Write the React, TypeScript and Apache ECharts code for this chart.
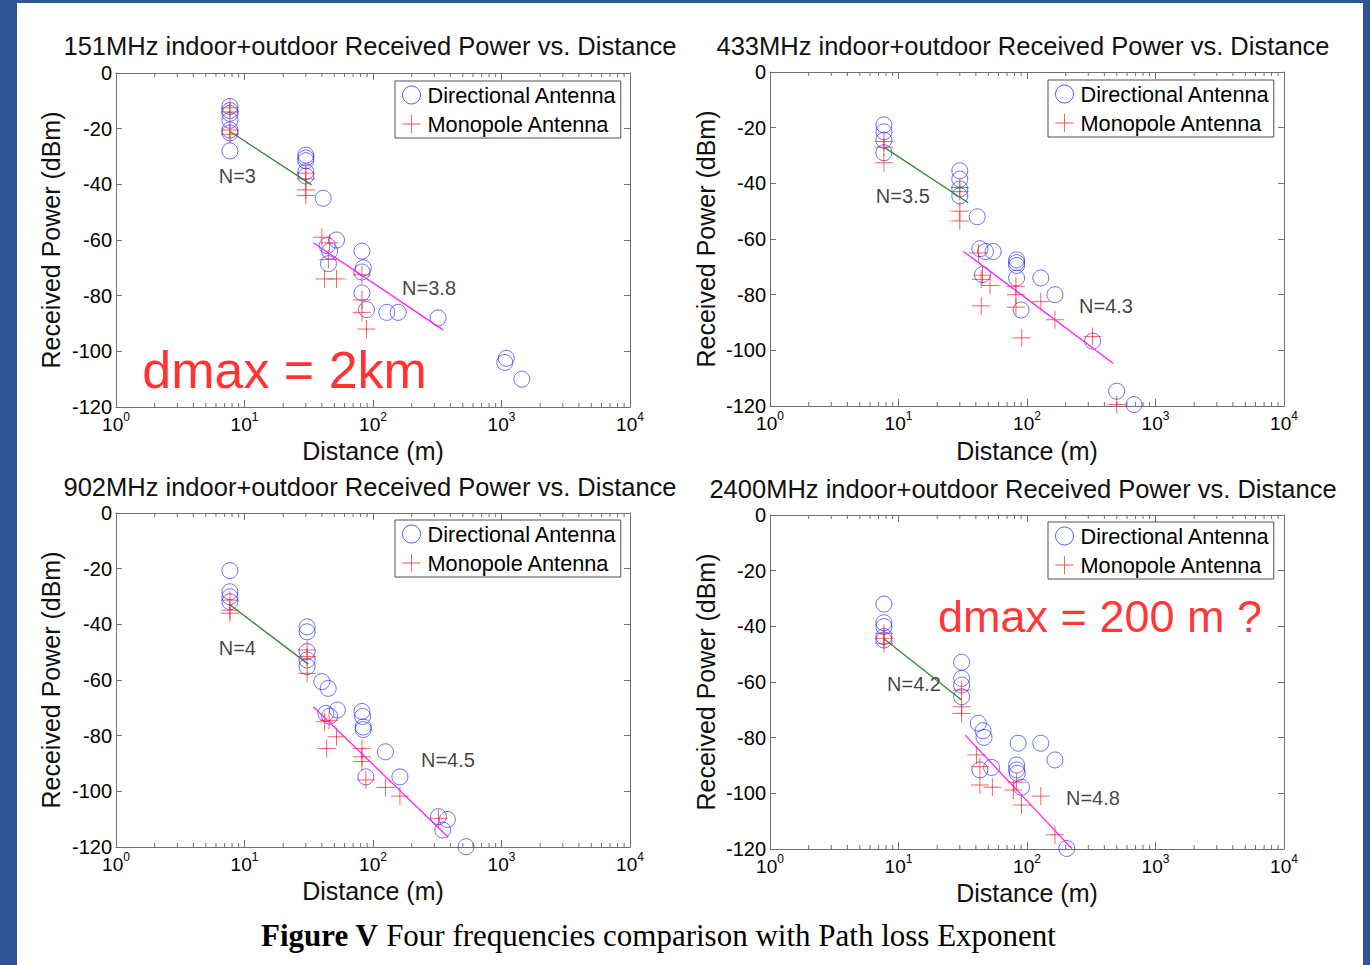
import React, { useEffect, useRef } from 'react';
import * as echarts from 'echarts';

const FONT = '"Liberation Sans", Arial, Helvetica, sans-serif';
const SERIF = '"Liberation Serif", "Times New Roman", serif';

const panelTitles = [
  '151MHz indoor+outdoor Received Power vs. Distance',
  '433MHz indoor+outdoor Received Power vs. Distance',
  '902MHz indoor+outdoor Received Power vs. Distance',
  '2400MHz indoor+outdoor Received Power vs. Distance',
];
const legendNames = ['Directional Antenna', 'Monopole Antenna'];
const xAxisName = 'Distance (m)';
const yAxisName = 'Received Power (dBm)';
const captionBold = 'Figure V';
const captionRest = ' Four frequencies comparison with Path loss Exponent';

const xMin = 1;
const xMax = 10000;
const yMin = -120;
const yMax = 0;
const yStep = 20;
const minorTicks = [
  2, 3, 4, 5, 6, 7, 8, 9, 20, 30, 40, 50, 60, 70, 80, 90,
  200, 300, 400, 500, 600, 700, 800, 900, 2000, 3000, 4000, 5000, 6000, 7000, 8000, 9000,
];

// ---------- 151 MHz ----------
const dir151: [number, number][] = [
  [7.7, -12], [7.7, -13.5], [7.7, -14.5], [7.7, -17], [7.7, -20.5], [7.7, -21.5], [7.7, -28],
  [30, -29.5], [30, -30.5], [30, -31.5], [30, -35.5], [30, -37],
  [41, -45],
  [44, -62], [46, -64], [45, -68.5], [52, -60],
  [82, -64], [84, -70], [82, -71.5], [82, -79], [89, -85],
  [128, -86], [157, -86], [321, -88],
  [1090, -102.5], [1060, -104], [1440, -110],
];
const mono151: [number, number][] = [
  [7.7, -12.5], [7.7, -14], [7.7, -20.5], [7.7, -22],
  [30, -36], [30, -38], [30, -42], [30, -44],
  [40, -59], [46, -61], [45, -67], [42, -74], [52, -74],
  [82, -72.5], [82, -81.5], [82, -86], [89, -92],
];
const fitA151: [number, number][] = [[7.7, -21], [33.3, -40.2]];
const fitB151: [number, number][] = [[34.3, -61], [351, -92.3]];
const labels151: [number, number, string][] = [[8.8, -37, 'N=3'], [273, -77.3, 'N=3.8']];
const note151: [number, number, string][] = [[20.5, -106.7, 'dmax = 2km']];

// ---------- 433 MHz ----------
const dir433: [number, number][] = [
  [7.7, -19], [7.7, -21.5], [7.7, -24.5], [7.7, -29],
  [30, -35.5], [30, -38.5], [30, -42], [30, -44.5],
  [41, -52],
  [43, -63.5], [47.5, -64.5], [54.5, -64.5], [45, -72.8],
  [83, -67.5], [83, -68.5], [83, -69.5], [83, -74], [90, -85.5],
  [128, -74], [165, -80], [324, -96.7],
  [499, -114.7], [680, -119.5],
];
const mono433: [number, number][] = [
  [7.7, -25], [7.7, -27], [7.7, -32.6],
  [30, -41.5], [30, -43], [30, -50], [30, -53.5],
  [42, -65], [44, -74.5], [45, -73], [51.6, -76.7], [44, -84],
  [82, -77], [82, -80], [82, -84.5], [91, -95.5],
  [128, -82.5], [165, -89], [324, -95], [499, -119.5],
];
const fitA433: [number, number][] = [[7.7, -27], [34.9, -47]];
const fitB433: [number, number][] = [[31.9, -64.4], [470, -104.7]];
const labels433: [number, number, string][] = [[10.8, -44.5, 'N=3.5'], [412, -84, 'N=4.3']];
const note433: [number, number, string][] = [];

// ---------- 902 MHz ----------
const dir902: [number, number][] = [
  [7.7, -20.7], [7.7, -28.3], [7.7, -30.1], [7.7, -31.9],
  [30.7, -40.9], [30.7, -42.7], [30.7, -49.8], [30.7, -52.8], [30.7, -55.2],
  [40, -60.6], [44.8, -63],
  [43, -72], [46, -73], [52.8, -70.8],
  [82, -71.3], [83, -73.1], [84, -76.9], [84, -77.8], [88, -94.8],
  [125, -85.8], [162, -94.8],
  [323, -109.1], [379, -110.1], [349, -113.9],
  [530, -119.9],
];
const mono902: [number, number][] = [
  [7.7, -31.3], [7.7, -34.9], [7.7, -36],
  [30.7, -49.2], [30.7, -51.6], [30.7, -57.6],
  [42, -75], [45.5, -74.5], [52, -80.4], [43.6, -84.6],
  [82, -84.6], [82, -87.6], [82, -89.3], [88, -95.9],
  [125, -98.6], [162, -101.7],
  [323, -109.7],
];
const fitA902: [number, number][] = [[7.7, -33], [31.3, -54.3]];
const fitB902: [number, number][] = [[34.3, -69.6], [385, -116.5]];
const labels902: [number, number, string][] = [[8.8, -48.5, 'N=4'], [383, -88.7, 'N=4.5']];
const note902: [number, number, string][] = [];

// ---------- 2400 MHz ----------
const dir2400: [number, number][] = [
  [7.7, -32], [7.7, -38.7], [7.7, -40.1], [7.7, -43.7], [7.7, -44.9],
  [31, -52.9], [31, -58.7], [31, -61.1], [31, -65.3],
  [41.8, -74.8], [45.5, -77.5], [46.3, -79.9], [43, -91.6], [53, -90.7],
  [85.3, -82], [83, -89.8], [83, -91.6], [84, -92.8], [90.6, -97.8],
  [128, -82], [165, -88],
  [204, -119.8],
];
const mono2400: [number, number][] = [
  [7.7, -42.5], [7.7, -44.3], [7.7, -46.1],
  [31, -62.9], [31, -68.9], [31, -71.3],
  [40.4, -86.2], [43, -90.4], [43, -97], [53.8, -97.8],
  [78.4, -98.8], [83, -96], [90.6, -104.2],
  [128, -101], [165, -114.9],
];
const fitA2400: [number, number][] = [[7.7, -44.5], [31, -66.5]];
const fitB2400: [number, number][] = [[32.9, -79], [223, -119.8]];
const labels2400: [number, number, string][] = [[13.2, -60.7, 'N=4.2'], [326, -101.7, 'N=4.8']];
const note2400: [number, number, string][] = [[370, -36.3, 'dmax = 200 m ?']];

const panels = [
  { dir: dir151, mono: mono151, fitA: fitA151, fitB: fitB151, labels: labels151, note: note151 },
  { dir: dir433, mono: mono433, fitA: fitA433, fitB: fitB433, labels: labels433, note: note433 },
  { dir: dir902, mono: mono902, fitA: fitA902, fitB: fitB902, labels: labels902, note: note902 },
  { dir: dir2400, mono: mono2400, fitA: fitA2400, fitB: fitB2400, labels: labels2400, note: note2400 },
];

// ---------- layout (pixels) ----------
const GW = 514;
const GH = 334;
const layout = [
  { left: 116, top: 73, titleX: 370, titleY: 46, yNameX: 51, xNameY: 451, legend: [395, 81], noteSize: 52 },
  { left: 770, top: 72, titleX: 1023, titleY: 46, yNameX: 706, xNameY: 451, legend: [1048, 80], noteSize: 52 },
  { left: 116, top: 513, titleX: 370, titleY: 487, yNameX: 51, xNameY: 891, legend: [395, 520], noteSize: 52 },
  { left: 770, top: 515, titleX: 1023, titleY: 489, yNameX: 706, xNameY: 893, legend: [1048, 522], noteSize: 45 },
];

const AX = '#707070';
const CIRCLE = 'rgba(30,30,255,0.8)';
const PLUS = 'rgba(255,20,20,0.85)';
const PLUS_PATH = 'path://M0 10H20M10 0V20';
const PLUS_ICON = 'path://M0 9.5H20V10.5H0Z M9.5 0H10.5V20H9.5Z';

function buildOption(): any {
  const grid: any[] = [];
  const xAxis: any[] = [];
  const yAxis: any[] = [];
  const series: any[] = [];
  const legend: any[] = [];
  const graphic: any[] = [];

  layout.forEach((L, i) => {
    grid.push({ left: L.left, top: L.top, width: GW, height: GH, containLabel: false, outerBoundsMode: 'none' });

    const xBase = {
      type: 'log', logBase: 10, min: xMin, max: xMax, gridIndex: i,
      axisLine: { show: true, onZero: false, lineStyle: { color: AX, width: 1 } },
      axisTick: { show: true, inside: true, length: 7, lineStyle: { color: AX } },
      splitLine: { show: false },
    };
    xAxis.push({
      ...xBase, position: 'bottom',
      axisLabel: {
        show: true, margin: 7, showMinLabel: true, showMaxLabel: true, hideOverlap: false,
        formatter: (v: number) => `{b|10}{s|${Math.round(Math.log10(v))}}`,
        rich: {
          b: { fontSize: 19, fontFamily: FONT, color: '#000', verticalAlign: 'bottom', lineHeight: 20 },
          s: { fontSize: 12, fontFamily: FONT, color: '#000', verticalAlign: 'bottom', lineHeight: 12, padding: [0, 0, 11, 0] },
        },
      },
    });
    xAxis.push({ ...xBase, position: 'top', axisLabel: { show: false } });

    const yBase = {
      type: 'value', min: yMin, max: yMax, interval: yStep, gridIndex: i,
      axisLine: { show: true, onZero: false, lineStyle: { color: AX, width: 1 } },
      axisTick: { show: true, inside: true, length: 6, lineStyle: { color: AX } },
      splitLine: { show: false },
    };
    yAxis.push({
      ...yBase, position: 'left',
      axisLabel: { show: true, margin: 4, fontSize: 20, fontFamily: FONT, color: '#000' },
    });
    yAxis.push({ ...yBase, position: 'right', axisLabel: { show: false } });

    const P = panels[i];
    const xi = 2 * i;
    const yi = 2 * i;

    series.push({
      type: 'custom', xAxisIndex: xi, yAxisIndex: yi, silent: true, z: 1,
      data: minorTicks.map((v) => [v, yMin]),
      renderItem: (_p: any, api: any) => {
        const v = api.value(0);
        const b = api.coord([v, yMin]);
        const t = api.coord([v, yMax]);
        const st = { stroke: AX, lineWidth: 1 };
        return {
          type: 'group',
          children: [
            { type: 'line', shape: { x1: b[0], y1: b[1], x2: b[0], y2: b[1] - 4 }, style: st },
            { type: 'line', shape: { x1: t[0], y1: t[1], x2: t[0], y2: t[1] + 4 }, style: st },
          ],
        };
      },
    });

    series.push({
      name: legendNames[0], type: 'scatter', xAxisIndex: xi, yAxisIndex: yi,
      data: P.dir, symbol: 'circle', symbolSize: 16,
      itemStyle: { color: 'rgba(0,0,0,0)', borderColor: CIRCLE, borderWidth: 1 },
      emphasis: { disabled: true },
    });
    series.push({
      name: legendNames[1], type: 'scatter', xAxisIndex: xi, yAxisIndex: yi,
      data: P.mono, symbol: PLUS_PATH, symbolSize: 18,
      itemStyle: { color: 'rgba(0,0,0,0)', borderColor: PLUS, borderWidth: 1 },
      emphasis: { disabled: true },
    });
    series.push({
      name: 'fitA' + i, type: 'line', xAxisIndex: xi, yAxisIndex: yi, data: P.fitA,
      symbol: 'none', silent: true, lineStyle: { color: '#2e8b2e', width: 1.3 },
    });
    series.push({
      name: 'fitB' + i, type: 'line', xAxisIndex: xi, yAxisIndex: yi, data: P.fitB,
      symbol: 'none', silent: true, lineStyle: { color: '#ff22ff', width: 1.3 },
    });
    series.push({
      name: 'labels' + i, type: 'scatter', xAxisIndex: xi, yAxisIndex: yi, silent: true,
      data: P.labels.map((l) => ({ value: [l[0], l[1]], name: l[2] })),
      symbolSize: 0, itemStyle: { color: 'rgba(0,0,0,0)' },
      label: { show: true, position: 'inside', formatter: '{b}', color: '#111', fontSize: 20, fontFamily: FONT },
    });
    if (P.note.length) {
      series.push({
        name: 'note' + i, type: 'scatter', xAxisIndex: xi, yAxisIndex: yi, silent: true, z: 5,
        data: P.note.map((l) => ({ value: [l[0], l[1]], name: l[2] })),
        symbolSize: 0, itemStyle: { color: 'rgba(0,0,0,0)' },
        label: { show: true, position: 'inside', formatter: '{b}', color: '#ff0000', fontSize: L.noteSize, fontFamily: FONT },
      });
    }

    legend.push({
      left: L.legend[0], top: L.legend[1], orient: 'vertical',
      data: [
        { name: legendNames[0], icon: 'circle', itemStyle: { color: 'rgba(0,0,0,0)', borderColor: '#3030ff', borderWidth: 1 } },
        { name: legendNames[1], icon: PLUS_ICON, itemStyle: { color: '#ff2020', borderColor: 'rgba(0,0,0,0)', borderWidth: 0 } },
      ],
      itemWidth: 18, itemHeight: 18, itemGap: 7, padding: [3, 4, 3, 7],
      borderColor: '#505050', borderWidth: 1, backgroundColor: '#fff',
      selectedMode: false,
      textStyle: { fontSize: 21.7, fontFamily: FONT, color: '#000', padding: [0, 0, 0, 2] },
    });

    graphic.push({
      type: 'text', x: L.titleX, y: L.titleY, silent: true,
      style: { text: panelTitles[i], align: 'center', verticalAlign: 'middle', fontSize: 25.5, fontFamily: FONT, fill: '#111' },
    });
    graphic.push({
      type: 'text', x: L.left + GW / 2, y: L.xNameY, silent: true,
      style: { text: xAxisName, align: 'center', verticalAlign: 'middle', fontSize: 25, fontFamily: FONT, fill: '#111' },
    });
    graphic.push({
      type: 'text', x: L.yNameX, y: L.top + GH / 2, rotation: Math.PI / 2, silent: true,
      style: { text: yAxisName, align: 'center', verticalAlign: 'middle', fontSize: 25, fontFamily: FONT, fill: '#111' },
    });
  });

  graphic.push({
    type: 'text', x: 261, y: 935, silent: true,
    style: {
      text: `{b|${captionBold}}{r|${captionRest}}`,
      align: 'left', verticalAlign: 'middle',
      rich: {
        b: { fontSize: 31, fontFamily: SERIF, fontWeight: 'bold', fill: '#000' },
        r: { fontSize: 31, fontFamily: SERIF, fill: '#000' },
      },
    },
  });

  return { animation: false, grid, xAxis, yAxis, series, legend, graphic, tooltip: { show: false } };
}

export default function App() {
  const ref = useRef<HTMLDivElement>(null);
  useEffect(() => {
    const chart = echarts.init(ref.current!, null, { renderer: 'svg' });
    chart.setOption(buildOption());
    return () => chart.dispose();
  }, []);
  return (
    <div style={{ position: 'fixed', left: 0, top: 0, width: 1370, height: 965, background: '#2f5597', overflow: 'hidden' }}>
      <div style={{ position: 'absolute', left: 17, top: 3, width: 1346, height: 962, background: '#fff' }} />
      <div ref={ref} style={{ position: 'absolute', left: 0, top: 0, width: 1370, height: 965 }} />
    </div>
  );
}
